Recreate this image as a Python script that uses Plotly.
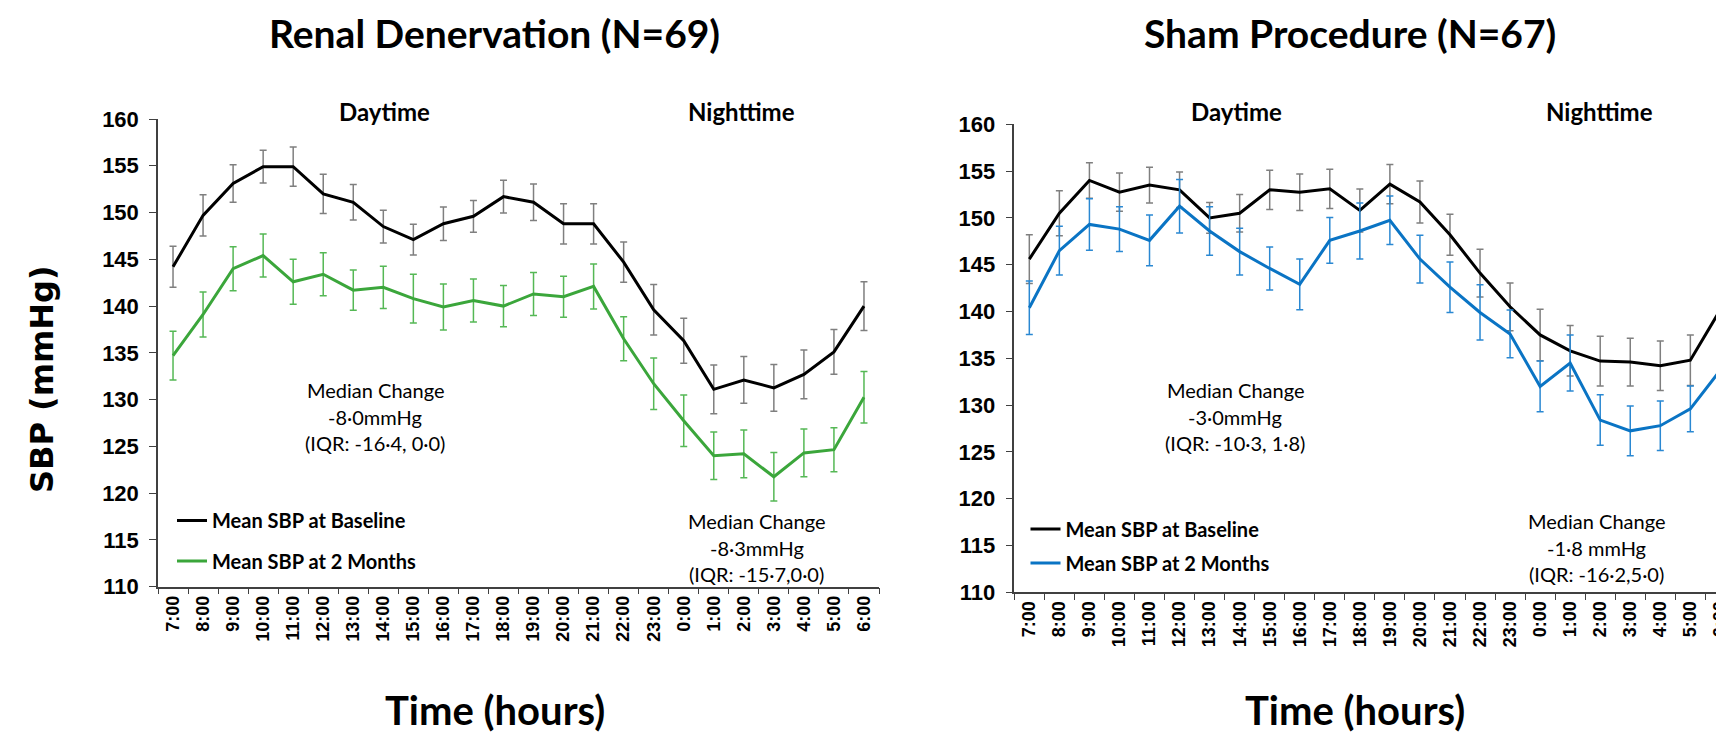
import plotly.graph_objects as go

hours = ["7:00", "8:00", "9:00", "10:00", "11:00", "12:00", "13:00", "14:00", "15:00",
         "16:00", "17:00", "18:00", "19:00", "20:00", "21:00", "22:00", "23:00", "0:00",
         "1:00", "2:00", "3:00", "4:00", "5:00", "6:00"]

# Renal denervation (N=69)
rdn_base = [144.2, 149.7, 153.1, 154.9, 154.9, 152.0, 151.1, 148.5, 147.1, 148.8, 149.6, 151.7,
            151.1, 148.8, 148.8, 144.7, 139.6, 136.3, 131.1, 132.1, 131.25, 132.7, 135.1, 140.0]
rdn_base_err = [2.2, 2.2, 2.0, 1.75, 2.1, 2.1, 1.9, 1.75, 1.65, 1.8, 1.7, 1.75,
                1.95, 2.15, 2.15, 2.15, 2.7, 2.4, 2.6, 2.5, 2.5, 2.6, 2.4, 2.6]
rdn_2m = [134.7, 139.1, 144.0, 145.4, 142.6, 143.4, 141.7, 142.0, 140.8, 139.9, 140.6, 140.0,
          141.3, 141.0, 142.1, 136.5, 131.7, 127.75, 124.0, 124.2, 121.75, 124.3, 124.65, 130.25]
rdn_2m_err = [2.6, 2.4, 2.35, 2.3, 2.4, 2.3, 2.15, 2.25, 2.6, 2.45, 2.3, 2.2,
              2.3, 2.2, 2.4, 2.35, 2.75, 2.75, 2.55, 2.55, 2.6, 2.55, 2.35, 2.75]

# Sham procedure (N=67)
sham_base = [145.6, 150.5, 154.0, 152.75, 153.5, 153.0, 150.0, 150.5, 153.0, 152.75, 153.1, 150.8,
             153.6, 151.7, 148.2, 144.1, 140.5, 137.5, 135.8, 134.7, 134.6, 134.2, 134.8, 140.2]
sham_base_err = [2.6, 2.4, 1.9, 2.05, 1.9, 1.9, 1.65, 2.0, 2.1, 1.95, 2.1, 2.3,
                 2.1, 2.25, 2.2, 2.55, 2.55, 2.75, 2.7, 2.65, 2.55, 2.65, 2.7, 2.55]
sham_2m = [140.4, 146.5, 149.3, 148.8, 147.6, 151.25, 148.6, 146.4, 144.6, 142.9, 147.6, 148.6,
           149.75, 145.6, 142.6, 139.9, 137.6, 132.0, 134.5, 128.4, 127.25, 127.8, 129.6, 133.75]
sham_2m_err = [2.85, 2.6, 2.75, 2.4, 2.7, 2.85, 2.6, 2.5, 2.3, 2.7, 2.45, 3.0,
               2.6, 2.55, 2.7, 2.95, 2.55, 2.7, 3.0, 2.7, 2.65, 2.65, 2.45, 2.75]

panel_titles = ["Renal Denervation (N=69)", "Sham Procedure (N=67)"]
legend_labels = ["Mean SBP at Baseline", "Mean SBP at 2 Months"]
period_labels = ["Daytime", "Nighttime"]
median_text = [
    [["Median Change", "-8·0mmHg", "(IQR: -16·4, 0·0)"],
     ["Median Change", "-8·3mmHg", "(IQR: -15·7,0·0)"]],
    [["Median Change", "-3·0mmHg", "(IQR: -10·3, 1·8)"],
     ["Median Change", "-1·8 mmHg", "(IQR: -16·2,5·0)"]],
]
y_ticks = [110, 115, 120, 125, 130, 135, 140, 145, 150, 155, 160]

W, H = 1724, 734
OFF = 8  # page body margin: figure is drawn 8px right/down of the viewport origin
def px(x):
    return (x - OFF) / W
def py(y):
    return 1 - (y - OFF) / H

BLACK = "#000000"
GRAY = "#7F7F7F"
GREEN = "#3BA63B"
GREEN_ERR = "#55B855"
BLUE = "#0A74C4"
BLUE_ERR = "#2A88D2"

TITLE_FONT = "Lato"
TICK_FONT = "Liberation Sans"

fig = go.Figure()

def add_series(y, err, color, errcolor, xa, ya, name, legend):
    fig.add_trace(go.Scatter(
        x=hours, y=y, mode="lines", name=name,
        line=dict(color=color, width=3),
        error_y=dict(type="data", array=err, visible=True, color=errcolor,
                     thickness=1.5, width=3.5),
        xaxis=xa, yaxis=ya, legend=legend, showlegend=True,
    ))

add_series(rdn_base, rdn_base_err, BLACK, GRAY, "x", "y", legend_labels[0], "legend")
add_series(rdn_2m, rdn_2m_err, GREEN, GREEN_ERR, "x", "y", legend_labels[1], "legend2")
add_series(sham_base, sham_base_err, BLACK, GRAY, "x2", "y2", legend_labels[0], "legend3")
add_series(sham_2m, sham_2m_err, BLUE, BLUE_ERR, "x2", "y2", legend_labels[1], "legend4")

axis_common_x = dict(
    type="category", categoryorder="array", categoryarray=hours,
    tickangle=-90, tickson="boundaries", ticks="outside", ticklen=6,
    tickcolor="#404040", showline=True, linecolor="#404040", linewidth=1.5,
    showgrid=False, zeroline=False, automargin=False,
    tickfont=dict(family=TICK_FONT, size=18, color="black", weight="bold"),
)
axis_common_y = dict(
    range=[110, 160], tickvals=y_ticks, ticks="outside", ticklen=7,
    tickcolor="#404040", showline=True, linecolor="#404040", linewidth=1.5,
    showgrid=False, zeroline=False, ticklabelstandoff=6, automargin=False,
    tickfont=dict(family=TICK_FONT, size=22, color="black", weight="bold"),
)

fig.update_layout(
    width=W, height=H,
    margin=dict(l=0, r=0, t=0, b=0, autoexpand=False),
    paper_bgcolor="white", plot_bgcolor="white",
    xaxis=dict(domain=[px(158), px(879)], range=[-0.5, 23.5], anchor="y", **axis_common_x),
    yaxis=dict(domain=[py(586.7), py(119)], anchor="x", **axis_common_y),
    xaxis2=dict(domain=[px(1014.3), px(1724)], range=[-0.5, 23.12], anchor="y2", **axis_common_x),
    yaxis2=dict(domain=[py(592.3), py(124.3)], anchor="x2", **axis_common_y),
)

leg_font = dict(family=TITLE_FONT, size=20, color="black", weight="bold")
legend_pos = {"legend": (172, 520.5), "legend2": (172, 561.0),
              "legend3": (1025.5, 529.0), "legend4": (1025.5, 563.0)}
for key, (lx, ly) in legend_pos.items():
    fig.update_layout({key: dict(x=px(lx), y=py(ly), xanchor="left", yanchor="middle",
                                 font=leg_font, bgcolor="rgba(0,0,0,0)",
                                 borderwidth=0, itemwidth=30)})

annotations = []
def ann(text, x, y, size, bold=False, angle=0, family=TITLE_FONT):
    annotations.append(dict(
        text=text, x=px(x), y=py(y), xref="paper", yref="paper",
        showarrow=False, xanchor="center", yanchor="middle", textangle=angle,
        font=dict(family=family, size=size, color="black", weight="bold" if bold else "normal"),
    ))

# panel titles
ann(panel_titles[0], 494.5, 33, 39, bold=True)
ann(panel_titles[1], 1350, 33, 39, bold=True)
# axis titles
ann("SBP (mmHg)", 42, 379, 32, bold=True, angle=-90, family="DejaVu Sans")
ann("Time (hours)", 495, 710, 40, bold=True)
ann("Time (hours)", 1354.5, 710, 40, bold=True)
# period labels
ann(period_labels[0], 384, 111.7, 24, bold=True)
ann(period_labels[1], 741.7, 111.7, 24, bold=True)
ann(period_labels[0], 1236, 111.7, 24, bold=True)
ann(period_labels[1], 1599, 111.7, 24, bold=True)
# median change texts
median_pos = [[(375, 390), (756.7, 521)], [(1235, 390), (1596, 521)]]
for p in range(2):
    for k in range(2):
        cx, cy = median_pos[p][k]
        for i, line in enumerate(median_text[p][k]):
            ann(line, cx, cy + i * 26.5, 20)

fig.update_layout(annotations=annotations)

fig.write_html("out.html")
